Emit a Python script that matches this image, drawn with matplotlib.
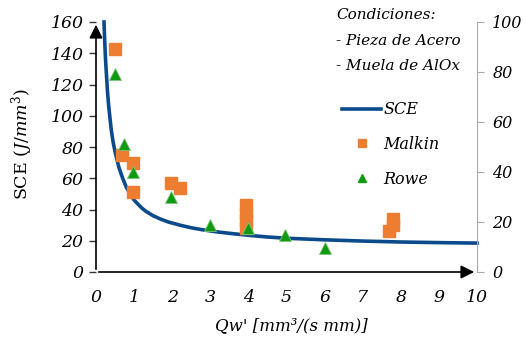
import matplotlib
matplotlib.use("Agg")
import matplotlib.pyplot as plt
from matplotlib.lines import Line2D

# ---- data ----
curve_x = [0.21, 0.23, 0.25, 0.28, 0.3, 0.33, 0.36, 0.4, 0.45, 0.5, 0.55, 0.6, 0.7, 0.8,
           0.9, 1.0, 1.1, 1.2, 1.3, 1.4, 1.5, 1.7, 1.9, 2.2, 2.5, 2.8, 3.2, 3.6, 4.0,
           4.5, 5.0, 6.0, 7.0, 8.0, 9.0, 10.0]
curve_y = [160, 147, 136, 124, 116, 107, 100, 91, 83, 77, 72, 67, 60, 54,
           50, 46, 43.5, 41, 39, 37.5, 36, 33.8, 32, 30, 28.3, 27, 25.6, 24.5, 23.5,
           22.4, 21.6, 20.6, 19.8, 19.2, 18.8, 18.5]

malkin_x = [0.5, 0.68, 0.97, 0.97, 1.96, 2.2, 3.95, 3.95, 3.95, 3.95, 7.8, 7.8, 7.7]
malkin_y = [143, 75, 70, 51, 57, 54, 43, 38, 33, 28, 34, 30, 26]

rowe_x = [0.5, 0.73, 0.97, 1.98, 2.98, 4.0, 4.97, 6.0]
rowe_y = [127, 82, 64, 48, 30, 28, 23.5, 15.3]

x_ticks = [0, 1, 2, 3, 4, 5, 6, 7, 8, 9, 10]
y_ticks = [0, 20, 40, 60, 80, 100, 120, 140, 160]
y2_ticks = [0, 20, 40, 60, 80, 100]

FONT = "DejaVu Serif"
plt.rcParams['font.family'] = FONT
plt.rcParams['mathtext.fontset'] = 'dejavuserif'

W, H = 526, 354
fig = plt.figure(figsize=(W / 100, H / 100), dpi=100)
left, right, bottom, top = 96, 477, 272, 22
ax = fig.add_axes([left / W, 1 - bottom / H, (right - left) / W, (bottom - top) / H])

blue = "#0B4A8B"
orange = "#ED7D31"
green = "#109A10"

ax.plot(curve_x, curve_y, color=blue, lw=2.6, zorder=3, clip_on=False,
        solid_joinstyle="round")
ax.plot(malkin_x, malkin_y, ls="none", marker="s", ms=8.5, color=orange, mec=orange, zorder=4)
ax.plot(rowe_x, rowe_y, ls="none", marker="^", ms=8.5, color=green, mec="#7CC47C", mew=0.6, zorder=4)

ax.set_xlim(0, 10)
ax.set_ylim(0, 160)
ax.set_xticks(x_ticks)
ax.set_yticks(y_ticks)
ax.set_xticklabels([str(v) for v in x_ticks], fontstyle="italic", fontsize=12.5)
ax.set_yticklabels([str(v) for v in y_ticks], fontstyle="italic", fontsize=12.5)
ax.tick_params(axis="x", length=0, pad=12)
ax.tick_params(axis="y", length=5, width=1.0, color="#333333", pad=4)
for s in ["top", "right", "bottom", "left"]:
    ax.spines[s].set_visible(False)

# arrow axes
ax.annotate("", xy=(0, 1.0), xycoords="axes fraction", xytext=(0, 0),
            arrowprops=dict(arrowstyle="-|>", color="black", lw=1.2, mutation_scale=20),
            zorder=5)
ax.annotate("", xy=(1.0, 0), xycoords="axes fraction", xytext=(0, 0),
            arrowprops=dict(arrowstyle="-|>", color="black", lw=1.2, mutation_scale=20),
            zorder=5)

ax2 = ax.twinx()
ax2.set_ylim(0, 100)
ax2.set_yticks(y2_ticks)
ax2.set_yticklabels([str(v) for v in y2_ticks], fontstyle="italic", fontsize=11.5)
for s in ["top", "left", "bottom"]:
    ax2.spines[s].set_visible(False)
ax2.spines["right"].set_color("#AAAAAA")
ax2.spines["right"].set_linewidth(0.8)
ax2.tick_params(axis="y", length=5, width=0.8, color="#AAAAAA", pad=6)

fig.text(22 / W, 1 - 144 / H, r"SCE $\mathit{(J/mm^{3})}$", fontsize=12.5,
         rotation=90, ha="center", va="center")
fig.text(291 / W, 1 - 326 / H, "Qw' [mm³/(s mm)]", fontstyle="italic", fontsize=12,
         ha="center", va="center")

# conditions text
for txt, yp in [("Condiciones:", 15), ("- Pieza de Acero", 41), ("- Muela de AlOx", 66)]:
    fig.text(336 / W, 1 - yp / H, txt, fontstyle="italic", fontsize=11, ha="left", va="center")

handles = [Line2D([], [], color=blue, lw=2.6),
           Line2D([], [], ls="none", marker="s", ms=5.5, color=orange),
           Line2D([], [], ls="none", marker="^", ms=5.5, color=green)]
leg = fig.legend(handles, ["SCE", "Malkin", "Rowe"], loc="upper left",
                 bbox_to_anchor=(328 / W, 1 - 87 / H), frameon=False,
                 prop=dict(family=FONT, style="italic", size=11.5),
                 handlelength=2.4, handletextpad=0.15, labelspacing=1.1)

fig.savefig("out.png", dpi=100)
